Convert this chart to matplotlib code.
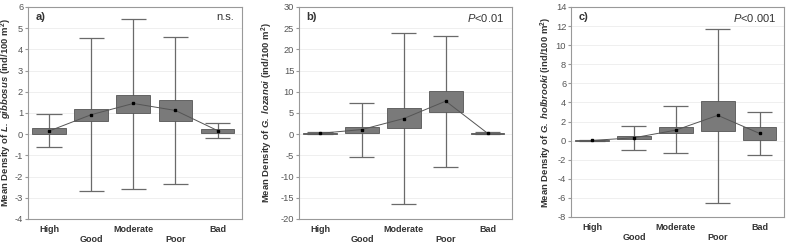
import matplotlib
matplotlib.use('Agg')
import matplotlib.pyplot as plt
import numpy as np

plt.rcParams['font.family'] = ['Liberation Sans', 'DejaVu Sans']
plt.rcParams['axes.unicode_minus'] = False
plt.rcParams['mathtext.fontset'] = 'custom'
plt.rcParams['mathtext.rm'] = 'Liberation Sans'
plt.rcParams['mathtext.it'] = 'Liberation Sans:italic'
plt.rcParams['mathtext.bf'] = 'Liberation Sans:bold'
plt.rcParams['mathtext.bfit'] = 'Liberation Sans:italic:bold'

categories = ['High', 'Good', 'Moderate', 'Poor', 'Bad']

# panel a) L. gibbosus
a_mean = [0.15, 0.92, 1.45, 1.12, 0.17]
a_box_lo = [0.0, 0.6, 1.0, 0.6, 0.05]
a_box_hi = [0.3, 1.2, 1.85, 1.6, 0.25]
a_wh_lo = [-0.62, -2.7, -2.58, -2.33, -0.18]
a_wh_hi = [0.95, 4.53, 5.43, 4.57, 0.52]

# panel b) G. lozanoi
b_mean = [0.2, 1.1, 3.7, 7.8, 0.2]
b_box_lo = [0.0, 0.4, 1.4, 5.3, 0.0]
b_box_hi = [0.4, 1.7, 6.1, 10.2, 0.4]
b_wh_lo = [-0.05, -5.4, -16.4, -7.7, -0.05]
b_wh_hi = [0.45, 7.4, 23.8, 23.1, 0.45]

# panel c) G. holbrooki
c_mean = [0.02, 0.3, 1.1, 2.65, 0.75]
c_box_lo = [0.0, 0.15, 0.85, 1.05, 0.05]
c_box_hi = [0.05, 0.45, 1.45, 4.2, 1.45]
c_wh_lo = [0.0, -0.95, -1.25, -6.5, -1.5]
c_wh_hi = [0.05, 1.55, 3.6, 11.7, 3.0]

panels = [
    dict(pos=[28/787, 1-219/246, 214/787, 212/246], mean=a_mean, lo=a_box_lo, hi=a_box_hi,
         wlo=a_wh_lo, whi=a_wh_hi, ylim=(-4, 6), step=1, tag='a)', stat='n.s.', italic=False,
         labx=-0.065,
         ylabel=r'Mean Density of $\mathbfit{L.\ gibbosus}$ (ind/100 m$^\mathbf{2}$)'),
    dict(pos=[299/787, 1-219/246, 213/787, 212/246], mean=b_mean, lo=b_box_lo, hi=b_box_hi,
         wlo=b_wh_lo, whi=b_wh_hi, ylim=(-20, 30), step=5, tag='b)', stat='<0.01', italic=True,
         labx=-0.113,
         ylabel=r'Mean Density of $\mathbfit{G.\ lozanoi}$ (ind/100 m$^\mathbf{2}$)'),
    dict(pos=[571/787, 1-217/246, 213/787, 210/246], mean=c_mean, lo=c_box_lo, hi=c_box_hi,
         wlo=c_wh_lo, whi=c_wh_hi, ylim=(-8, 14), step=2, tag='c)', stat='<0.001', italic=True,
         labx=-0.078,
         ylabel=r'Mean Density of $\mathbfit{G.\ holbrooki}$ (ind/100 m$^\mathbf{2}$)'),
]

fig = plt.figure(figsize=(7.87, 2.46), dpi=100)
x = np.arange(len(categories))
box_w = 0.8
cap_w = 0.6
box_col = '#7a7a7a'
edge_col = '#555555'
txt_col = '#333333'

for p in panels:
    ax = fig.add_axes(p['pos'])
    lo = np.array(p['lo'])
    hi = np.array(p['hi'])
    ax.vlines(x, p['wlo'], p['whi'], color='#6a6a6a', lw=0.9, zorder=2)
    ax.hlines(p['wlo'], x - cap_w/2, x + cap_w/2, color='#6a6a6a', lw=0.9, zorder=2)
    ax.hlines(p['whi'], x - cap_w/2, x + cap_w/2, color='#6a6a6a', lw=0.9, zorder=2)
    ax.bar(x, hi - lo, bottom=lo, width=box_w, color=box_col, edgecolor=edge_col, lw=0.6, zorder=3)
    ax.plot(x, p['mean'], color='#555555', lw=0.7, marker='s', ms=1.5, mfc='black', mec='black', zorder=4)

    ax.set_xlim(-0.5, 4.58)
    ax.set_ylim(*p['ylim'])
    ax.set_yticks(np.arange(p['ylim'][0], p['ylim'][1] + 0.1, p['step']))
    ax.yaxis.grid(True, color='#ececec', lw=0.6, zorder=0)
    ax.set_axisbelow(True)
    ax.set_xticks(x)
    ax.set_xticklabels([c if i % 2 == 0 else '\n' + c for i, c in enumerate(categories)],
                       fontsize=6.5, fontweight='bold', color=txt_col, linespacing=1.15)
    ax.tick_params(axis='x', length=0, pad=4)
    ax.tick_params(axis='y', labelsize=6.7, labelcolor='#555555', length=2, pad=1.5,
                   direction='out', color='#999999')
    for s in ax.spines.values():
        s.set_color('#999999')
        s.set_linewidth(0.8)
    ax.set_ylabel(p['ylabel'], fontsize=6.8, fontweight='bold', color=txt_col)
    ax.yaxis.set_label_coords(p['labx'], 0.5)
    ax.text(0.035, 0.975, p['tag'], transform=ax.transAxes, fontsize=8, fontweight='bold',
            color=txt_col, va='top', ha='left')
    if p['italic']:
        ax.text(0.965, 0.975, r'$\it{P}$' + p['stat'], transform=ax.transAxes, fontsize=8,
                color=txt_col, va='top', ha='right')
    else:
        ax.text(0.965, 0.975, p['stat'], transform=ax.transAxes, fontsize=8,
                color=txt_col, va='top', ha='right')

fig.savefig('out.png', dpi=100)
